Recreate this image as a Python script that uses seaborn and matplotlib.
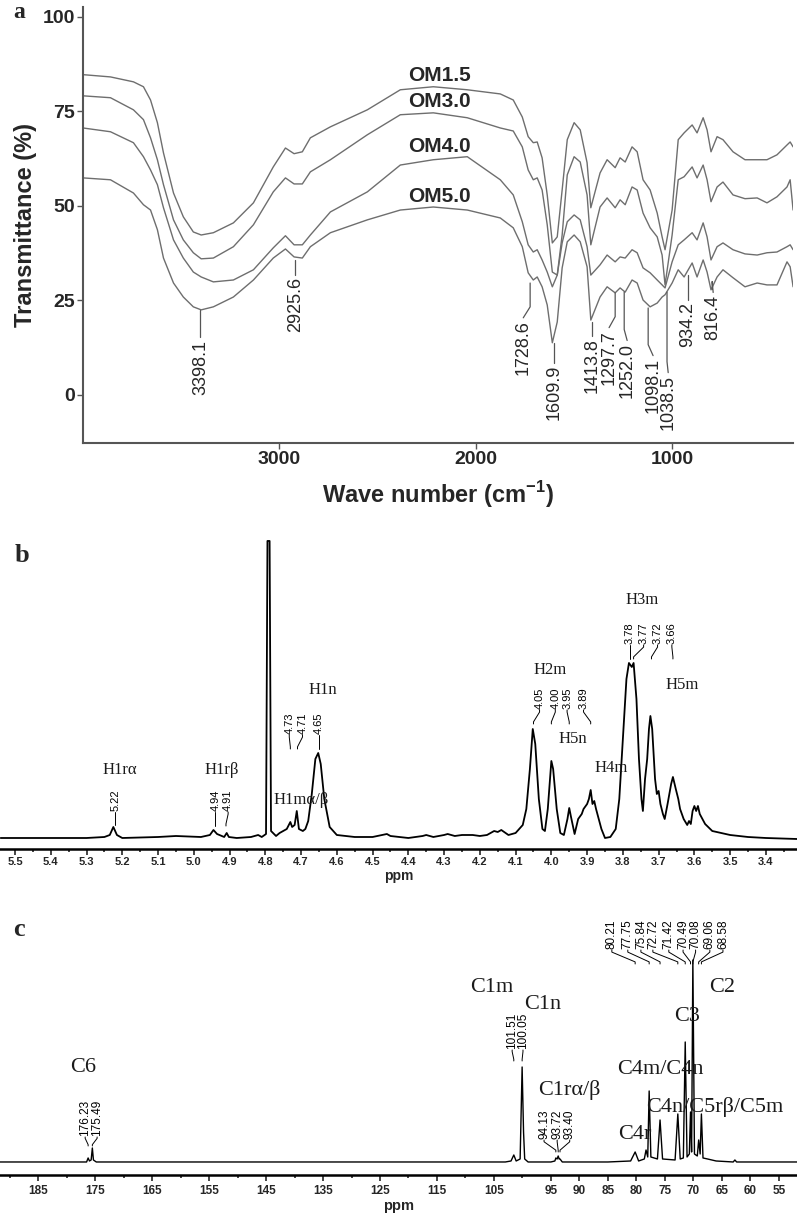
import numpy as np
import pandas as pd
import matplotlib
matplotlib.use("Agg")
import matplotlib.pyplot as plt
import seaborn as sns

sns.set_theme(style="white")
plt.rcParams["font.family"] = ["Liberation Sans", "DejaVu Sans"]
plt.rcParams["mathtext.fontset"] = "custom"
plt.rcParams["mathtext.rm"] = "Liberation Sans"
plt.rcParams["mathtext.bf"] = "Liberation Sans:bold"
SERIF = ["Liberation Serif", "DejaVu Serif"]

# ---------------- (a) FTIR ----------------
wavenumber = [4000, 3860, 3743, 3692, 3656, 3621, 3590, 3539, 3489, 3438,
              3398, 3336, 3234, 3132, 3031, 2969, 2925, 2883, 2842, 2740,
              2552, 2384, 2216, 2043, 1875, 1809, 1763, 1733, 1707, 1687,
              1662, 1636, 1610, 1585, 1560, 1534, 1499, 1468, 1433, 1414,
              1367, 1331, 1290, 1265, 1239, 1204, 1178, 1148, 1112, 1076,
              1051, 1036, 1000, 969, 939, 898, 873, 842, 822, 802,
              771, 741, 690, 629, 567, 517, 466, 415, 399, 384]
om15 = [84.7, 84.1, 82.8, 81.5, 78.0, 72.0, 64.0, 53.4, 47.1, 43.1,
        42.3, 42.9, 45.5, 50.8, 60.3, 65.3, 63.8, 64.3, 68.0, 70.9,
        75.4, 80.7, 81.5, 80.7, 79.6, 78.0, 73.5, 68.3, 66.7, 66.9,
        62.7, 52.9, 40.2, 41.8, 54.2, 67.5, 72.0, 70.1, 61.4, 49.5,
        58.7, 62.2, 60.1, 62.7, 61.6, 65.6, 64.3, 56.9, 54.2, 48.1,
        41.8, 38.4, 48.9, 67.5, 69.3, 71.4, 69.3, 73.3, 70.1, 64.3,
        68.3, 67.5, 64.3, 62.2, 62.2, 62.2, 63.5, 66.1, 66.9, 65.6]
om30 = [79.1, 78.6, 75.4, 72.8, 68.0, 62.2, 55.6, 46.3, 41.0, 37.6,
        36.0, 36.2, 39.2, 45.0, 53.7, 57.4, 55.8, 55.8, 59.0, 62.2,
        68.8, 74.1, 74.6, 73.3, 70.6, 69.8, 65.6, 59.5, 56.9, 57.4,
        54.2, 45.0, 32.5, 31.7, 42.3, 58.2, 63.0, 61.6, 52.9, 39.7,
        49.7, 52.1, 49.5, 51.6, 50.3, 55.0, 54.2, 48.1, 44.2, 41.8,
        37.0, 29.1, 42.3, 56.9, 57.7, 60.3, 57.4, 60.8, 56.9, 51.1,
        55.0, 56.3, 52.9, 51.9, 52.1, 50.8, 52.4, 55.0, 56.9, 48.9]
om40 = [70.6, 69.6, 66.7, 63.0, 59.5, 55.6, 49.5, 41.0, 36.2, 32.5,
        31.2, 29.9, 30.4, 33.1, 38.9, 42.1, 39.7, 39.7, 42.3, 48.4,
        53.7, 60.8, 62.2, 63.0, 56.9, 52.9, 45.8, 39.7, 37.8, 38.4,
        35.7, 32.5, 28.6, 31.7, 40.2, 45.8, 47.6, 46.3, 39.2, 31.7,
        34.4, 37.0, 35.2, 36.5, 36.2, 38.4, 37.6, 33.6, 32.3, 30.4,
        29.1, 28.3, 35.2, 39.7, 41.0, 42.9, 41.0, 45.5, 41.8, 35.7,
        39.2, 40.2, 38.4, 37.3, 37.0, 37.6, 37.8, 39.2, 39.7, 38.4]
om50 = [57.4, 56.9, 53.4, 50.3, 48.9, 43.7, 36.2, 29.6, 25.9, 23.3,
        22.5, 23.3, 25.9, 30.4, 36.2, 38.6, 36.5, 36.2, 39.2, 42.9,
        46.3, 48.9, 49.7, 48.9, 46.8, 44.2, 39.2, 32.3, 30.4, 31.2,
        28.6, 23.8, 13.8, 19.3, 33.6, 40.5, 42.3, 40.5, 33.9, 19.8,
        25.9, 28.6, 27.0, 28.3, 27.2, 30.4, 29.6, 25.1, 23.3, 24.3,
        25.9, 26.5, 29.6, 33.1, 31.2, 34.9, 31.2, 35.7, 32.5, 27.8,
        31.2, 33.1, 31.0, 28.6, 29.6, 29.1, 29.1, 35.2, 33.9, 28.6]
samples = ["OM1.5", "OM3.0", "OM4.0", "OM5.0"]
sample_label_y = [84.4, 77.5, 65.6, 52.6]

ftir_peaks = ["3398.1", "2925.6", "1728.6", "1609.9", "1413.8", "1297.7",
              "1252.0", "1098.1", "1038.5", "934.2", "816.4"]
ftir_text_x = [3402, 2919, 1758, 1601, 1407, 1321, 1229, 1097, 1020, 919, 791]
ftir_text_top = [14.6, 31.2, 19.8, 7.9, 15.1, 17.2, 13.8, 9.8, 5.3, 24.6, 26.5]
ftir_lead_x = [3402, 2919, 1723, 1601, 1407, 1290, 1244, 1122, 1026, 919, 796]
ftir_lead_top = [22.5, 35.7, 29.6, 13.8, 19.3, 27.0, 27.2, 23.0, 27.2, 31.7, 28.0]

# ---------------- (b) 1H NMR ----------------
h_ppm = [5.54, 5.40, 5.30, 5.25, 5.235, 5.225, 5.215, 5.20, 5.10, 5.05,
         4.98, 4.955, 4.945, 4.935, 4.915, 4.908, 4.902, 4.88, 4.84, 4.82,
         4.81, 4.798, 4.794, 4.788, 4.784, 4.77, 4.76, 4.75, 4.74, 4.73,
         4.725, 4.718, 4.712, 4.706, 4.695, 4.688, 4.68, 4.67, 4.66, 4.652,
         4.645, 4.635, 4.62, 4.60, 4.55, 4.50, 4.46, 4.45, 4.40, 4.36,
         4.35, 4.33, 4.30, 4.29, 4.27, 4.25, 4.22, 4.20, 4.18, 4.16,
         4.15, 4.14, 4.12, 4.10, 4.09, 4.08, 4.07, 4.06, 4.052, 4.045,
         4.035, 4.025, 4.018, 4.01, 4.00, 3.995, 3.985, 3.975, 3.965, 3.955,
         3.95, 3.945, 3.935, 3.925, 3.915, 3.91, 3.90, 3.895, 3.89, 3.885,
         3.88, 3.875, 3.86, 3.85, 3.835, 3.82, 3.81, 3.80, 3.79, 3.783,
         3.775, 3.77, 3.762, 3.755, 3.748, 3.744, 3.738, 3.732, 3.727, 3.723,
         3.718, 3.71, 3.705, 3.70, 3.695, 3.688, 3.683, 3.675, 3.665, 3.66,
         3.652, 3.645, 3.64, 3.63, 3.625, 3.62, 3.615, 3.61, 3.605, 3.60,
         3.595, 3.59, 3.585, 3.57, 3.55, 3.50, 3.45, 3.40, 3.313]
h_int = [1, 1, 1, 2, 4, 12, 4, 1, 2, 3,
         2, 4, 9, 5, 2, 6, 2, 1, 2, 4,
         2, 5, 298, 298, 8, 3, 6, 8, 10, 17,
         12, 14, 28, 10, 8, 10, 18, 45, 80, 86,
         75, 40, 12, 4, 2, 2, 5, 3, 1, 3,
         4, 2, 4, 5, 3, 4, 4, 3, 4, 8,
         7, 9, 4, 6, 10, 14, 30, 70, 110, 95,
         40, 10, 8, 30, 78, 70, 30, 6, 4, 20,
         31, 22, 5, 20, 25, 30, 35, 40, 49, 35,
         38, 30, 10, 1, 2, 10, 40, 100, 160, 176,
         172, 176, 140, 80, 40, 28, 60, 80, 110, 123,
         110, 60, 45, 48, 35, 25, 20, 35, 55, 62,
         50, 40, 30, 20, 17, 14, 18, 15, 28, 33,
         28, 33, 25, 15, 8, 4, 2, 1, 0]

h_groups = [
    # peak positions, label positions, text bottom, leader end
    ([5.22], [5.22], 27, 14),
    ([4.94, 4.91], [4.94, 4.904], 27, 13),
    ([4.73, 4.71, 4.65], [4.733, 4.696, 4.65], 104, 90),
    ([4.05, 4.00, 3.95, 3.89], [4.033, 3.989, 3.956, 3.91], 129, 115),
    ([3.78, 3.77, 3.72, 3.66], [3.78, 3.742, 3.703, 3.663], 194, 180),
]
h_names = ["H1rα", "H1rβ", "H1mα/β", "H1n", "H2m", "H5n", "H4m", "H3m", "H5m"]
h_name_x = [5.206, 4.921, 4.70, 4.639, 4.004, 3.94, 3.833, 3.747, 3.635]
h_name_y = [69, 69, 39, 149, 169, 100, 71, 239, 154]
h_ticks = [5.5, 5.4, 5.3, 5.2, 5.1, 5.0, 4.9, 4.8, 4.7, 4.6, 4.5,
           4.4, 4.3, 4.2, 4.1, 4.0, 3.9, 3.8, 3.7, 3.6, 3.5, 3.4]
h_minor = [5.45, 5.35, 5.25, 5.15, 5.05, 4.95, 4.85, 4.75, 4.65, 4.55,
           4.45, 4.35, 4.25, 4.15, 4.05, 3.95, 3.85, 3.75, 3.65, 3.55, 3.45, 3.35]

# ---------------- (c) 13C NMR ----------------
c_ppm = [191.7, 185, 178, 176.5, 176.23, 176.0, 175.7, 175.49, 175.3, 174.8,
         170, 150, 130, 110, 103, 102.0, 101.51, 101.1, 100.4, 100.05,
         99.8, 99.6, 99, 95, 94.3, 94.13, 93.9, 93.72, 93.55, 93.40,
         93.0, 85, 81.0, 80.21, 79.6, 78.6, 78.3, 78.0, 77.75, 77.45,
         76.3, 75.84, 75.4, 73.2, 72.72, 72.3, 71.75, 71.42, 71.1, 70.7,
         70.49, 70.3, 70.08, 69.8, 69.3, 69.06, 68.8, 68.58, 68.3, 67.5,
         66, 63, 62.7, 62.4, 51.7]
c_int = [0, 0, 0, 0, 4, 1, 2, 14, 2, 0,
         0, 0, 0, 0, 0, 1, 7, 1, 3, 95,
         30, 3, 0, 0, 1, 4, 3, 6, 3, 3,
         0, 0, 1, 10, 1, 3, 12, 5, 71, 5,
         3, 42, 3, 2, 48, 3, 4, 120, 5, 8,
         50, 10, 202, 8, 6, 22, 8, 48, 4, 3,
         1, 0, 2, 0, 0]

c_groups = [
    ([176.23, 175.49], [176.75, 174.65], 25, 16),
    ([101.51, 100.05], [101.8, 99.9], 112, 101),
    ([94.13, 93.72, 93.40], [96.2, 93.9, 91.7], 22, 10),
    ([80.21, 77.75, 75.84, 72.72, 71.42, 70.49, 70.08, 69.06, 68.58],
     [84.3, 81.5, 79.2, 77.1, 74.3, 71.8, 69.6, 67.1, 64.8], 212, 198),
]
c_names = ["C6", "C1m", "C1n", "C1rα/β", "C4m/C4n", "C4n/C5rβ/C5m", "C4r", "C3", "C2"]
c_name_x = [177.1, 105.4, 96.4, 91.7, 75.7, 66.2, 80.3, 71.1, 65.0]
c_name_y = [94, 174, 157, 72, 92, 55, 27, 145, 174]
c_ticks = [185, 175, 165, 155, 145, 135, 125, 115, 105, 95, 90, 85, 80, 75, 70, 65, 60, 55]
c_minor = [190, 180, 170, 160, 150, 140, 130, 120, 110, 100]


def fmt_ppm(v):
    return f"{v:.1f}" if isinstance(v, float) else str(v)


def draw_group(ax, peaks, texts, y_text, y_end, size):
    step = (y_text - y_end) * 0.15
    for p, t in zip(peaks, texts):
        ax.plot([t, t, p, p], [y_text, y_text - step, y_end + step, y_end],
                color="black", lw=0.7)
        ax.text(t, y_text + 0.5, f"{p:.2f}", rotation=90, ha="center", va="bottom",
                fontsize=size, color="black")


fig = plt.figure(figsize=(7.97, 12.2), dpi=100)
ax_a = fig.add_axes([0.1041, 0.6369, 0.891, 0.3574])
ax_b = fig.add_axes([0.0, 0.3041, 1.0, 0.2574])
ax_c = fig.add_axes([0.0, 0.0369, 1.0, 0.2131])

# ---- panel a ----
ftir = pd.DataFrame({
    "wavenumber": np.tile(wavenumber, len(samples)),
    "transmittance": np.concatenate([om15, om30, om40, om50]),
    "sample": np.repeat(samples, len(wavenumber)),
})
sns.lineplot(data=ftir, x="wavenumber", y="transmittance", hue="sample",
             palette={s: "#6e6e6e" for s in samples}, legend=False,
             estimator=None, sort=False, linewidth=1.0, ax=ax_a)
ax_a.set_xlim(4000, 384)
ax_a.set_ylim(-12.7, 102.6)
ax_a.set_xticks([3000, 2000, 1000])
ax_a.set_xticklabels(["3000", "2000", "1000"], fontsize=14, fontweight="bold")
ax_a.set_yticks([0, 25, 50, 75, 100])
ax_a.set_yticklabels(["0", "25", "50", "75", "100"], fontsize=14, fontweight="bold")
ax_a.tick_params(bottom=True, left=True, direction="out", length=4, width=1,
                 color="#555555", pad=2)
for s in ["top", "right"]:
    ax_a.spines[s].set_visible(False)
for s in ["left", "bottom"]:
    ax_a.spines[s].set_color("#555555")
    ax_a.spines[s].set_linewidth(1.5)
ax_a.set_xlabel(r"Wave number (cm$^{\mathbf{-1}}$)", fontsize=17, fontweight="bold", labelpad=8)
ax_a.set_ylabel("Transmittance (%)", fontsize=17, fontweight="bold", labelpad=4)

for name, y in zip(samples, sample_label_y):
    ax_a.text(2344, y, name, fontsize=15, fontweight="bold", ha="left", va="center")

for lab, tx, tt, lx, lt in zip(ftir_peaks, ftir_text_x, ftir_text_top, ftir_lead_x, ftir_lead_top):
    bend = tt + 3.5 if lx != tx else tt + 0.6
    ax_a.plot([lx, lx, tx], [lt, bend, tt + 0.6], color="#555555", lw=0.9)
    ax_a.text(tx, tt, lab, rotation=90, ha="center", va="top", fontsize=13)

# ---- panel b ----
sns.lineplot(x=h_ppm, y=h_int, color="black", linewidth=1.3,
             estimator=None, sort=False, ax=ax_b)
ax_b.set_xlim(5.542, 3.313)
ax_b.set_ylim(-10, 304)
ax_b.set_yticks([])
ax_b.set_xticks(h_ticks)
ax_b.set_xticklabels([f"{v:.1f}" for v in h_ticks], fontsize=8, fontweight="bold")
ax_b.set_xticks(h_minor, minor=True)
ax_b.tick_params(axis="x", which="both", bottom=True, direction="out", width=1.2, pad=2)
ax_b.tick_params(axis="x", which="major", length=4)
ax_b.tick_params(axis="x", which="minor", length=2.5)
for s in ["top", "right", "left"]:
    ax_b.spines[s].set_visible(False)
ax_b.spines["bottom"].set_linewidth(1.8)
ax_b.spines["bottom"].set_color("black")
ax_b.set_xlabel("ppm", fontsize=10, fontweight="bold", labelpad=1)
for peaks, texts, yt, ye in h_groups:
    draw_group(ax_b, peaks, texts, yt, ye, 8)
for name, x, y in zip(h_names, h_name_x, h_name_y):
    ax_b.text(x, y, name, family=SERIF, fontsize=12, ha="center", va="center", color="#1a1a1a")

# ---- panel c ----
sns.lineplot(x=c_ppm, y=c_int, color="black", linewidth=1.0,
             estimator=None, sort=False, ax=ax_c)
ax_c.set_xlim(191.7, 51.8)
ax_c.set_ylim(-13, 247)
ax_c.set_yticks([])
ax_c.set_xticks(c_ticks)
ax_c.set_xticklabels([str(v) for v in c_ticks], fontsize=8.5, fontweight="bold")
ax_c.set_xticks(c_minor, minor=True)
ax_c.tick_params(axis="x", which="both", bottom=True, direction="out", width=1.2, pad=3)
ax_c.tick_params(axis="x", which="major", length=4)
ax_c.tick_params(axis="x", which="minor", length=2.5)
for s in ["top", "right", "left"]:
    ax_c.spines[s].set_visible(False)
ax_c.spines["bottom"].set_linewidth(1.8)
ax_c.spines["bottom"].set_color("black")
ax_c.set_xlabel("ppm", fontsize=10.5, fontweight="bold", labelpad=2)
for peaks, texts, yt, ye in c_groups:
    draw_group(ax_c, peaks, texts, yt, ye, 8.5)
for name, x, y in zip(c_names, c_name_x, c_name_y):
    ax_c.text(x, y, name, family=SERIF, fontsize=16, ha="center", va="center", color="#1a1a1a")

# panel letters
for letter, px, py, size in [("a", 19, 12, 17), ("b", 22, 555, 19), ("c", 19, 930, 19)]:
    fig.text(px / 797, 1 - py / 1220, letter, family=SERIF, fontsize=size,
             fontweight="bold", ha="center", va="center")

fig.savefig("out.png", dpi=100)
